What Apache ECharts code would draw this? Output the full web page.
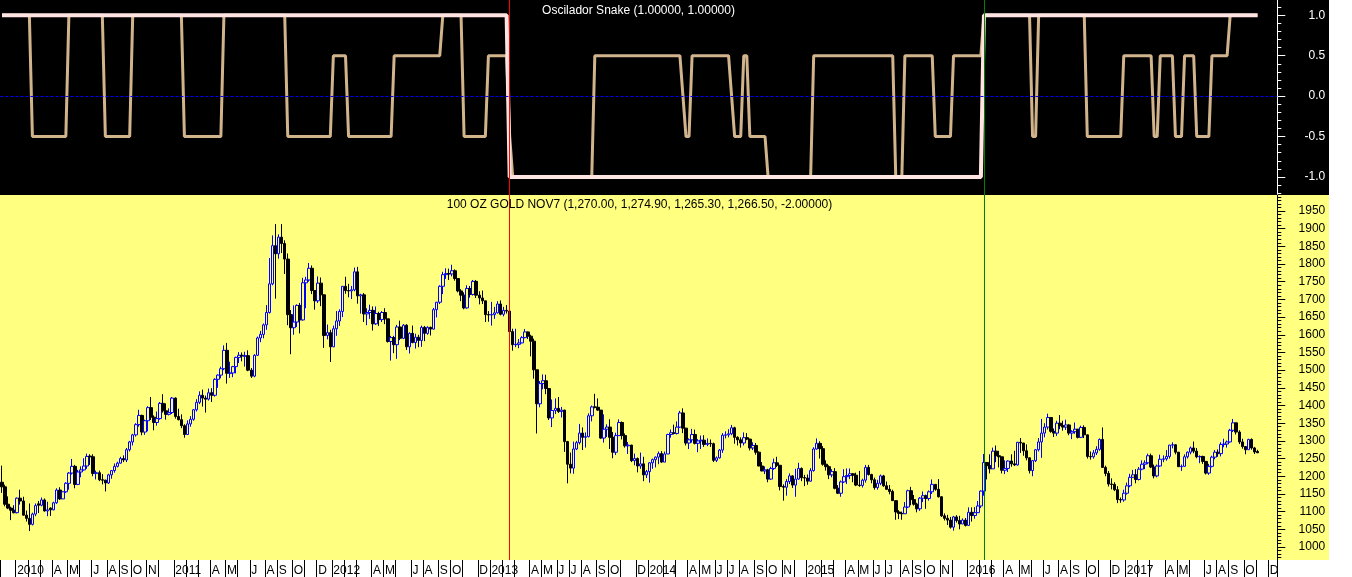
<!DOCTYPE html>
<html><head><meta charset="utf-8">
<script src="https://cdn.jsdelivr.net/npm/echarts@6/dist/echarts.min.js"></script>
<style>html,body{margin:0;padding:0;background:#fff;overflow:hidden}#c{width:1352px;height:577px}</style>
</head><body><div id="c"></div>
<script>
// ---------- DATA ----------
const firstWeek = '2009-12-04';   // weekly bars (Fridays)
const nCats = 420;                 // axis runs a few empty weeks past the last bar

const opens = [
1183,1170,1121,1110,1104,1097,1138,1130,1090,1081,
1064,1093,1122,1118,1133,1102,1110,1105,1125,1161,
1136,1156,1180,1209,1228,1177,1212,1218,1229,1257,
1255,1208,1210,1190,1189,1181,1204,1216,1228,1237,
1250,1246,1275,1297,1317,1346,1372,1325,1357,1394,
1367,1352,1363,1406,1385,1375,1380,1421,1369,1360,
1343,1318,1348,1361,1388,1409,1429,1421,1418,1436,
1429,1474,1486,1504,1556,1491,1492,1510,1536,1542,
1539,1541,1500,1483,1542,1591,1601,1628,1663,1744,
1852,1829,1876,1858,1814,1657,1620,1636,1683,1642,
1747,1755,1788,1725,1696,1746,1713,1598,1606,1566,
1617,1639,1666,1737,1725,1724,1727,1778,1710,1713,
1659,1663,1669,1631,1660,1643,1663,1645,1581,1592,
1572,1622,1590,1627,1566,1604,1578,1593,1584,1621,
1604,1621,1616,1671,1692,1737,1770,1773,1772,1781,
1759,1724,1712,1676,1731,1714,1751,1712,1704,1696,
1657,1656,1657,1662,1687,1658,1669,1667,1609,1572,
1573,1577,1592,1608,1596,1582,1501,1405,1462,1470,
1448,1365,1386,1392,1383,1387,1298,1234,1223,1277,
1295,1322,1310,1312,1371,1396,1395,1387,1308,1333,
1339,1310,1268,1315,1352,1315,1286,1288,1244,1250,
1229,1235,1204,1213,1238,1247,1254,1264,1240,1263,
1318,1323,1321,1339,1379,1336,1294,1303,1318,1293,
1300,1302,1290,1293,1292,1245,1252,1274,1316,1317,
1320,1337,1310,1303,1294,1309,1305,1280,1287,1268,
1229,1215,1218,1192,1222,1238,1231,1171,1169,1185,
1201,1175,1192,1222,1196,1195,1186,1216,1277,1293,
1278,1234,1227,1204,1213,1166,1152,1184,1199,1202,
1207,1203,1175,1174,1189,1225,1205,1190,1168,1180,
1201,1173,1163,1157,1131,1099,1095,1094,1113,1159,
1134,1121,1108,1138,1145,1137,1156,1177,1163,1142,
1088,1081,1076,1056,1085,1075,1065,1076,1061,1098,
1089,1097,1116,1158,1239,1230,1221,1271,1258,1255,
1217,1222,1243,1235,1232,1296,1294,1272,1252,1216,
1244,1275,1297,1322,1339,1366,1327,1322,1350,1343,
1339,1345,1322,1326,1333,1310,1338,1317,1256,1255,
1266,1276,1304,1225,1208,1178,1177,1162,1134,1133,
1152,1173,1197,1204,1191,1220,1234,1238,1258,1226,
1201,1229,1248,1249,1256,1288,1289,1268,1227,1228,
1255,1268,1280,1271,1255,1256,1242,1209,1228,1254,
1268,1264,1290,1291,1297,1330,1351,1325,1297,1284,
1275,1304,1280,1270
];
const highs = [
1230,1176,1143,1114,1118,1140,1162,1142,1103,1123,
1097,1123,1130,1140,1137,1128,1112,1128,1166,1169,
1157,1183,1212,1249,1232,1218,1228,1251,1264,1262,
1262,1216,1216,1206,1190,1207,1217,1236,1241,1255,
1259,1280,1300,1320,1350,1388,1374,1360,1398,1424,
1372,1383,1410,1432,1406,1392,1424,1423,1391,1375,
1347,1358,1370,1390,1418,1440,1445,1428,1448,1449,
1477,1488,1510,1570,1577,1524,1512,1538,1551,1550,
1552,1556,1506,1545,1595,1611,1632,1684,1817,1881,
1913,1884,1913,1867,1830,1670,1683,1686,1690,1761,
1764,1803,1796,1726,1765,1762,1714,1629,1614,1626,
1667,1672,1738,1764,1744,1738,1790,1792,1716,1718,
1675,1685,1680,1680,1665,1667,1675,1645,1597,1597,
1628,1640,1630,1630,1607,1626,1603,1600,1626,1625,
1624,1623,1676,1693,1740,1778,1788,1787,1798,1785,
1760,1729,1720,1740,1738,1755,1755,1723,1725,1696,
1667,1693,1679,1695,1697,1679,1684,1672,1617,1617,
1588,1596,1616,1609,1600,1589,1501,1469,1488,1487,
1448,1417,1420,1424,1396,1388,1300,1267,1298,1300,
1348,1338,1324,1378,1400,1433,1420,1387,1375,1347,
1361,1325,1323,1361,1355,1321,1297,1289,1264,1253,
1267,1255,1218,1240,1250,1256,1270,1271,1270,1320,
1332,1346,1355,1385,1392,1337,1307,1334,1332,1305,
1315,1316,1307,1304,1295,1256,1277,1322,1327,1333,
1345,1340,1313,1310,1324,1322,1306,1296,1294,1270,
1240,1228,1221,1227,1250,1255,1232,1177,1192,1208,
1203,1221,1238,1225,1204,1205,1223,1282,1307,1299,
1285,1245,1231,1220,1223,1175,1188,1220,1222,1222,
1209,1210,1215,1193,1232,1232,1207,1196,1190,1205,
1204,1185,1175,1162,1131,1104,1100,1127,1162,1170,
1147,1125,1141,1157,1148,1160,1191,1178,1192,1143,
1095,1091,1085,1088,1090,1088,1081,1082,1112,1112,
1113,1130,1160,1263,1240,1262,1281,1287,1272,1255,
1245,1245,1262,1272,1297,1308,1294,1290,1253,1246,
1277,1308,1362,1350,1377,1366,1335,1357,1373,1357,
1360,1347,1330,1352,1334,1343,1344,1318,1270,1274,
1285,1307,1338,1230,1215,1194,1183,1172,1140,1162,
1182,1207,1218,1220,1226,1245,1245,1264,1264,1233,
1233,1261,1259,1274,1289,1296,1291,1268,1233,1262,
1270,1284,1298,1280,1259,1258,1243,1235,1258,1274,
1276,1296,1306,1301,1334,1362,1351,1330,1306,1284,
1306,1307,1283,1274.9
];
const lows = [
1153,1115,1107,1076,1095,1095,1120,1089,1072,1045,
1061,1087,1096,1115,1100,1087,1088,1104,1122,1133,
1136,1153,1162,1205,1166,1175,1197,1216,1221,1232,
1200,1191,1186,1177,1157,1178,1193,1210,1225,1236,
1240,1240,1270,1287,1312,1340,1316,1317,1327,1359,
1330,1343,1360,1380,1360,1372,1376,1363,1358,1336,
1309,1318,1340,1357,1383,1404,1397,1380,1414,1410,
1425,1450,1477,1500,1462,1478,1480,1491,1520,1525,
1510,1497,1478,1480,1540,1579,1590,1614,1660,1740,
1702,1815,1831,1772,1627,1545,1600,1622,1604,1640,
1675,1750,1715,1671,1690,1681,1563,1587,1523,1565,
1597,1625,1650,1716,1706,1701,1723,1688,1660,1636,
1627,1645,1612,1628,1625,1636,1630,1578,1527,1548,
1532,1585,1588,1557,1547,1576,1561,1565,1566,1582,
1600,1598,1615,1649,1687,1715,1758,1755,1765,1753,
1720,1695,1672,1674,1705,1711,1704,1686,1687,1636,
1637,1626,1645,1660,1655,1652,1660,1603,1555,1565,
1562,1576,1590,1588,1539,1476,1321,1395,1446,1432,
1359,1339,1376,1379,1366,1269,1180,1208,1207,1274,
1290,1274,1281,1310,1355,1392,1385,1306,1295,1311,
1277,1251,1260,1314,1304,1281,1263,1240,1231,1211,
1221,1186,1195,1182,1221,1225,1234,1238,1240,1263,
1309,1318,1318,1337,1322,1287,1277,1295,1290,1268,
1277,1283,1285,1283,1240,1240,1250,1266,1307,1310,
1316,1292,1287,1281,1287,1302,1273,1274,1261,1228,
1214,1206,1183,1190,1218,1226,1160,1131,1145,1178,
1167,1142,1190,1186,1172,1176,1185,1213,1275,1250,
1230,1216,1192,1197,1163,1150,1142,1181,1178,1192,
1183,1172,1170,1168,1182,1202,1180,1162,1162,1175,
1170,1162,1149,1130,1077,1079,1077,1094,1110,1118,
1117,1098,1102,1127,1108,1131,1150,1159,1140,1085,
1075,1062,1052,1046,1069,1050,1065,1058,1061,1072,
1080,1096,1110,1145,1191,1208,1221,1240,1225,1208,
1206,1212,1227,1229,1230,1266,1258,1245,1208,1200,
1240,1270,1252,1310,1332,1323,1311,1314,1333,1329,
1331,1316,1305,1320,1307,1308,1308,1250,1247,1250,
1260,1272,1224,1200,1171,1163,1158,1124,1125,1128,
1148,1169,1196,1180,1188,1217,1220,1234,1223,1194,
1197,1227,1240,1244,1250,1279,1262,1227,1215,1227,
1250,1262,1265,1251,1237,1235,1205,1204,1225,1248,
1255,1256,1282,1281,1295,1325,1318,1291,1278,1262,
1275,1275,1263,1265.3
];
const closes = [
1170,1121,1110,1104,1097,1138,1130,1090,1081,1064,
1093,1117,1118,1133,1102,1105,1105,1125,1161,1136,
1156,1180,1209,1228,1177,1212,1218,1229,1256,1255,
1208,1210,1190,1189,1181,1204,1216,1228,1237,1250,
1246,1275,1297,1317,1346,1372,1325,1357,1394,1367,
1352,1363,1406,1385,1375,1380,1421,1369,1360,1343,
1318,1348,1361,1388,1409,1429,1421,1418,1436,1429,
1474,1486,1504,1556,1491,1492,1510,1536,1542,1540,
1541,1500,1483,1542,1591,1601,1628,1663,1744,1852,
1829,1876,1858,1814,1657,1620,1636,1683,1642,1747,
1755,1788,1725,1696,1746,1713,1598,1606,1566,1617,
1639,1666,1737,1725,1724,1727,1778,1710,1713,1659,
1663,1669,1631,1660,1643,1663,1645,1581,1592,1572,
1622,1590,1627,1566,1604,1578,1593,1584,1621,1604,
1621,1616,1671,1692,1737,1770,1773,1772,1781,1759,
1724,1712,1676,1731,1714,1751,1712,1704,1696,1657,
1656,1657,1662,1687,1658,1669,1667,1609,1572,1573,
1577,1592,1608,1596,1582,1501,1405,1462,1470,1448,
1365,1386,1392,1383,1387,1298,1234,1223,1277,1295,
1322,1310,1312,1371,1396,1395,1387,1308,1333,1339,
1310,1268,1315,1352,1315,1286,1288,1244,1250,1229,
1235,1204,1213,1238,1247,1254,1264,1240,1263,1318,
1323,1321,1339,1379,1336,1294,1303,1318,1293,1300,
1302,1290,1293,1292,1245,1252,1274,1316,1317,1320,
1337,1310,1303,1294,1309,1305,1280,1287,1268,1229,
1215,1218,1192,1222,1238,1231,1171,1169,1185,1201,
1175,1192,1222,1196,1195,1186,1216,1277,1293,1278,
1234,1227,1204,1213,1166,1152,1184,1199,1202,1207,
1203,1175,1174,1189,1225,1205,1190,1168,1180,1201,
1173,1163,1157,1131,1099,1095,1094,1113,1159,1134,
1121,1108,1138,1145,1137,1156,1177,1163,1142,1088,
1081,1076,1056,1085,1075,1065,1076,1061,1098,1089,
1097,1116,1158,1239,1230,1221,1271,1258,1255,1217,
1222,1243,1235,1232,1296,1294,1272,1252,1216,1244,
1275,1297,1322,1339,1366,1327,1322,1350,1343,1339,
1345,1322,1326,1333,1310,1338,1317,1256,1255,1266,
1276,1304,1225,1208,1178,1177,1162,1134,1133,1152,
1173,1197,1204,1191,1220,1234,1238,1258,1226,1201,
1229,1248,1249,1256,1288,1289,1268,1227,1228,1255,
1268,1280,1271,1255,1256,1242,1209,1228,1254,1268,
1264,1290,1291,1297,1330,1351,1325,1297,1284,1275,
1304,1280,1268.5,1266.5
];

// Oscilador Snake: vertices [weekIndex, value]
const snakePts = [
[0,1],[9,1],[10,-0.5],[21,-0.5],[22,1],[33,1],[34,-0.5],[42,-0.5],
[43,1],[59,1],[60,-0.5],[72,-0.5],[73,1],[93,1],[94,-0.5],[108,-0.5],
[109,0.5],[113,0.5],[114,-0.5],[128,-0.5],[129,0.5],[144,0.5],
[145,1],[151,1],[152,-0.5],[159,-0.5],[160,0.5],[166,0.5],[167,-0.5],
[168,-1],[194,-1],[195,0.5],[223,0.5],[224,0],[225,-0.5],[226,-0.5],
[227,0.5],[239,0.5],[240,0],[241,-0.5],[243,-0.5],[244,0.5],[245,0.5],
[246,-0.5],[251,-0.5],[252,-1],[266,-1],[267,0.5],[293,0.5],
[294,-1],[296,-1],[297,0.5],[306,0.5],[307,-0.5],[312,-0.5],
[313,0.5],[322,0.5],[323,1],[338,1],[339,-0.5],[340,-0.5],[341,1],[356,1],
[357,-0.5],[368,-0.5],[369,0.5],[378,0.5],[379,-0.5],[380,-0.5],
[381,0.5],[385,0.5],[386,-0.5],[388,-0.5],[389,0.5],[392,0.5],
[393,-0.5],[397,-0.5],[398,0.5],[403,0.5],[404,1],[413,1]
];
// trend state (pink line): vertices [weekIndex, value]
const trendPts = [[0,1],[166,1],[167,-1],[322,-1],[323,1],[413,1]];
const sellIdx = 167, buyIdx = 323;

// x-axis: first bar of each month, and the labelled ones
const monthStarts = [0,5,9,13,17,22,26,30,35,39,43,48,52,57,61,65,69,74,78,82,87,91,96,100,104,
109,113,117,122,126,130,135,139,144,148,152,157,161,165,169,174,178,183,187,191,196,200,204,209,
213,218,222,226,230,235,239,243,248,252,257,261,265,270,274,278,282,287,291,296,300,304,309,313,
318,322,326,330,335,339,343,348,352,357,361,365,370,374,378,383,387,391,396,400,404,409,413,417];
const labelIdx = [5,17,22,30,35,39,43,48, 57,69,74,82,87,91,96,104, 109,122,126,135,139,144,148,157,
161,174,178,183,187,191,196,200,209, 213,226,230,235,239,243,248,252,257, 265,278,282,287,291,296,300,304,309,
318,330,335,343,348,352,357,365, 370,383,387,396,400,404,409,417];
const labelTxt = ['2010','A','M','J','A','S','O','N', '2011','A','M','J','A','S','O','D', '2012','A','M','J','A','S','O','D',
'2013','A','M','J','J','A','S','O','D', '2014','A','M','J','J','A','S','O','N', '2015','A','M','J','J','A','S','O','N',
'2016','A','M','J','A','S','O','D', '2017','A','M','J','A','S','O','D'];

const oscTicks = [-1,-0.5,0,0.5,1];
const priceTicks = [1000,1050,1100,1150,1200,1250,1300,1350,1400,1450,1500,1550,1600,1650,1700,1750,1800,1850,1900,1950];

const oscTitle = 'Oscilador Snake (1.00000, 1.00000)';
const priceTitle = '100 OZ GOLD NOV7 (1,270.00, 1,274.90, 1,265.30, 1,266.50, -2.00000)';

// ---------- BUILD ----------
[opens,highs,lows,closes].forEach((a,k)=>{ if(a.length!==414) throw new Error('array '+k+' length '+a.length); });
const cats = [];
for (let i=0;i<nCats;i++){ const d=new Date(Date.UTC(2009,11,4+7*i)); cats.push(d.toISOString().slice(0,10)); }
const ohlc = opens.map((o,i)=>[o, closes[i], lows[i], highs[i]]);
const labelMap = {}; labelIdx.forEach((ix,k)=>labelMap[ix]=labelTxt[k]);
const startSet = new Set(monthStarts);
const oscMinor=[]; for(let k=-12;k<=11;k++) oscMinor.push(k/10);
const priceMinor=[]; for(let v=970; v<=1990; v+=10) priceMinor.push(v);

const FONT = '"Liberation Sans", Arial, sans-serif';
const W = 1276.8, L = 0.48;
const chart = echarts.init(document.getElementById('c'), null, {renderer:'canvas'});
const hiddenY = (g, min, max, ticks, len, col)=>({gridIndex:g, type:'value', position:'right', min, max,
  axisLine:{show:false}, axisLabel:{show:false}, splitLine:{show:false},
  axisTick:{show:true, customValues:ticks, length:len, lineStyle:{color:col, width:1}}});

chart.setOption({
  animation:false,
  backgroundColor:'#ffffff',
  graphic:[
    {type:'rect', z:-100, shape:{x:0,y:0,width:1329,height:195}, style:{fill:'#000000'}},
    {type:'rect', z:-100, shape:{x:0,y:195,width:1329,height:365}, style:{fill:'#FFFF80'}},
    {type:'text', z:50, x:638.5, y:11, style:{text:oscTitle, fill:'#ffffff', font:'12px '+FONT, textAlign:'center', textVerticalAlign:'middle', align:'center', verticalAlign:'middle'}},
    {type:'text', z:50, x:639.5, y:205, style:{text:priceTitle, fill:'#000000', font:'12px '+FONT, textAlign:'center', textVerticalAlign:'middle', align:'center', verticalAlign:'middle'}}
  ],
  grid:[
    {left:L, top:0, width:W, height:195},
    {left:L, top:195, width:W, height:365}
  ],
  xAxis:[
    {gridIndex:0, type:'category', data:cats, boundaryGap:true, show:false},
    {gridIndex:1, type:'category', data:cats, boundaryGap:true,
     axisLine:{show:false},
     axisTick:{show:true, length:17, interval:(i)=>startSet.has(i), lineStyle:{color:'#000', width:1}},
     axisLabel:{show:true, interval:(i)=>labelMap[i]!==undefined, formatter:(v,i)=>labelMap[i]||'',
       align:'left', margin:5, fontSize:12, fontFamily:FONT, color:'#000'},
     splitLine:{show:false}}
  ],
  yAxis:[
    {gridIndex:0, type:'value', position:'right', min:-1.223, max:1.189,
     axisLine:{show:true, lineStyle:{color:'#ffffff', width:1}},
     axisTick:{show:true, customValues:oscTicks, length:8, lineStyle:{color:'#ffffff'}},
     axisLabel:{show:true, customValues:oscTicks, formatter:(v)=>v.toFixed(1), color:'#ffffff', fontSize:12, fontFamily:FONT, align:'right', margin:48, padding:[3,0,0,0]},
     splitLine:{show:false}},
    hiddenY(0, -1.223, 1.189, oscMinor, 4, '#ffffff'),
    {gridIndex:1, type:'value', position:'right', min:963.2, max:1995.2,
     axisLine:{show:true, lineStyle:{color:'#000000', width:1}},
     axisTick:{show:true, customValues:priceTicks, length:8, lineStyle:{color:'#000000'}},
     axisLabel:{show:true, customValues:priceTicks, formatter:(v)=>String(v), color:'#000000', fontSize:12, fontFamily:FONT, align:'right', margin:48, padding:[3,0,0,0]},
     splitLine:{show:false}},
    hiddenY(1, 963.2, 1995.2, priceMinor, 4, '#000000')
  ],
  series:[
    {type:'line', xAxisIndex:0, yAxisIndex:0, data:[], z:1, silent:true,
     markLine:{silent:true, symbol:['none','none'], label:{show:false},
       lineStyle:{color:'#0000FF', width:1, type:[3,2]}, data:[{yAxis:0}]}},
    {type:'line', name:'snake', xAxisIndex:0, yAxisIndex:0, data:snakePts, z:2,
     showSymbol:false, symbol:'none', lineStyle:{color:'#D2B48C', width:3}},
    {type:'line', name:'trend', xAxisIndex:0, yAxisIndex:0, data:trendPts, z:3,
     showSymbol:false, symbol:'none', lineStyle:{color:'#FFE4E1', width:4}},
    {type:'line', xAxisIndex:0, yAxisIndex:0, data:[], z:5, silent:true,
     markLine:{silent:true, symbol:['none','none'], label:{show:false},
       data:[{xAxis:cats[sellIdx], lineStyle:{color:'#FF0000', width:1, type:'solid'}},
             {xAxis:cats[buyIdx], lineStyle:{color:'#008000', width:1, type:'solid'}}]}},
    {type:'candlestick', xAxisIndex:1, yAxisIndex:2, data:ohlc, barWidth:3, z:3,
     itemStyle:{color:'#FFFF80', color0:'#000000', borderColor:'#0000FF', borderColor0:'#000000', borderWidth:1}},
    {type:'line', xAxisIndex:1, yAxisIndex:2, data:[], z:5, silent:true,
     markLine:{silent:true, symbol:['none','none'], label:{show:false},
       data:[{xAxis:cats[sellIdx], lineStyle:{color:'#FF0000', width:1, type:'solid'}},
             {xAxis:cats[buyIdx], lineStyle:{color:'#008000', width:1, type:'solid'}}]}}
  ]
});
</script></body></html>
